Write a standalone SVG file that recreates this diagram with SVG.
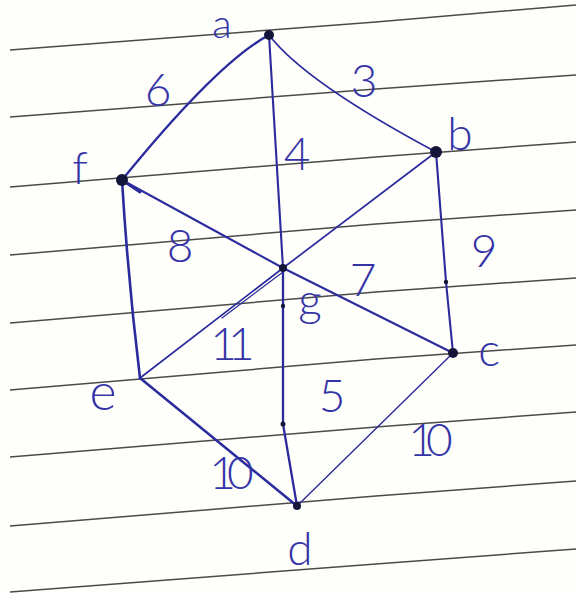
<svg xmlns="http://www.w3.org/2000/svg" width="576" height="594" viewBox="0 0 576 594">
<style>
.paper{stroke:#4a4a4a;stroke-width:1.5;fill:none}
.e{stroke:#2b2b9e;fill:none;stroke-linecap:round;stroke-linejoin:round}
.t{fill:#3434a6;font-family:"Lato","DejaVu Sans",sans-serif;font-weight:300;text-anchor:middle}
.l{font-size:46px}
.d{font-size:46px}
.w{letter-spacing:-9px}
.n{fill:#15153a}
</style>
<rect width="576" height="594" fill="#fefefb"/>
<g id="paper-lines">
<polyline class="paper" points="10,50 376,22 576,5"/>
<polyline class="paper" points="10,117 376,89 576,75"/>
<polyline class="paper" points="10,187 376,157 576,142"/>
<polyline class="paper" points="10,255 376,224 576,210"/>
<polyline class="paper" points="10,323 376,292 576,278"/>
<polyline class="paper" points="10,390 376,359 576,345"/>
<polyline class="paper" points="10,457 376,427 576,412"/>
<polyline class="paper" points="10,526 376,496 576,481"/>
<polyline class="paper" points="10,592 376,564 576,549"/>
</g>
<g id="connectors">
<path class="e" stroke-width="2.4" d="M269,35 Q218,62 122,180"/>
<path class="e" stroke-width="1.7" d="M269,35 Q305,82 436,152"/>
<path class="e" stroke-width="2.1" d="M269,35 L283,268"/>
<path class="e" stroke-width="2.3" d="M283,268 L283,424 L297,506"/>
<path class="e" stroke-width="2" d="M122,180 L283,268 L453,353"/>
<path class="e" stroke-width="3" d="M122,180 L140,192"/>
<path class="e" stroke-width="1.7" d="M436,152 L283,268 L140,378"/>
<path class="e" stroke-width="1.2" d="M283,272 L222,318"/>
<path class="e" stroke-width="2.1" d="M436,152 L446,282 L453,353"/>
<path class="e" stroke-width="2.6" d="M122,180 Q128,280 140,378"/>
<path class="e" stroke-width="2.6" d="M140,378 L297,506"/>
<path class="e" stroke-width="1.4" d="M453,353 L297,506"/>
<circle class="n" cx="283" cy="306" r="2.2"/>
<circle class="n" cx="283" cy="424" r="2.5"/>
<circle class="n" cx="446" cy="282" r="2.2"/>
</g>
<g id="node-a"><circle class="n" cx="269" cy="35" r="5"/><text class="t" font-size="40" x="222" y="38">a</text></g>
<g id="node-b"><circle class="n" cx="436" cy="152" r="6"/><text class="t l" x="460" y="150">b</text></g>
<g id="node-f"><circle class="n" cx="122" cy="180" r="6"/><text class="t l" x="80" y="184">f</text></g>
<g id="node-g"><circle class="n" cx="283" cy="268" r="4"/><text class="t l" x="310" y="316">g</text></g>
<g id="node-c"><circle class="n" cx="453" cy="353" r="5"/><text class="t l" x="489" y="366">c</text></g>
<g id="node-e"><text class="t" font-size="52" x="103" y="410">e</text></g>
<g id="node-d"><circle class="n" cx="297" cy="506" r="4"/><text class="t l" x="300" y="565">d</text></g>
<g id="edge-labels">
<text class="t d" x="158" y="106">6</text>
<text class="t d" x="364" y="97">3</text>
<text class="t d" x="297" y="170">4</text>
<text class="t d" x="180" y="262">8</text>
<text class="t d" x="484" y="267">9</text>
<text class="t d" x="363" y="296">7</text>
<text class="t d w" x="228" y="360">11</text>
<text class="t d" x="332" y="412">5</text>
<text class="t d w" x="227" y="489">10</text>
<text class="t d w" x="426" y="456">10</text>
</g>
</svg>
